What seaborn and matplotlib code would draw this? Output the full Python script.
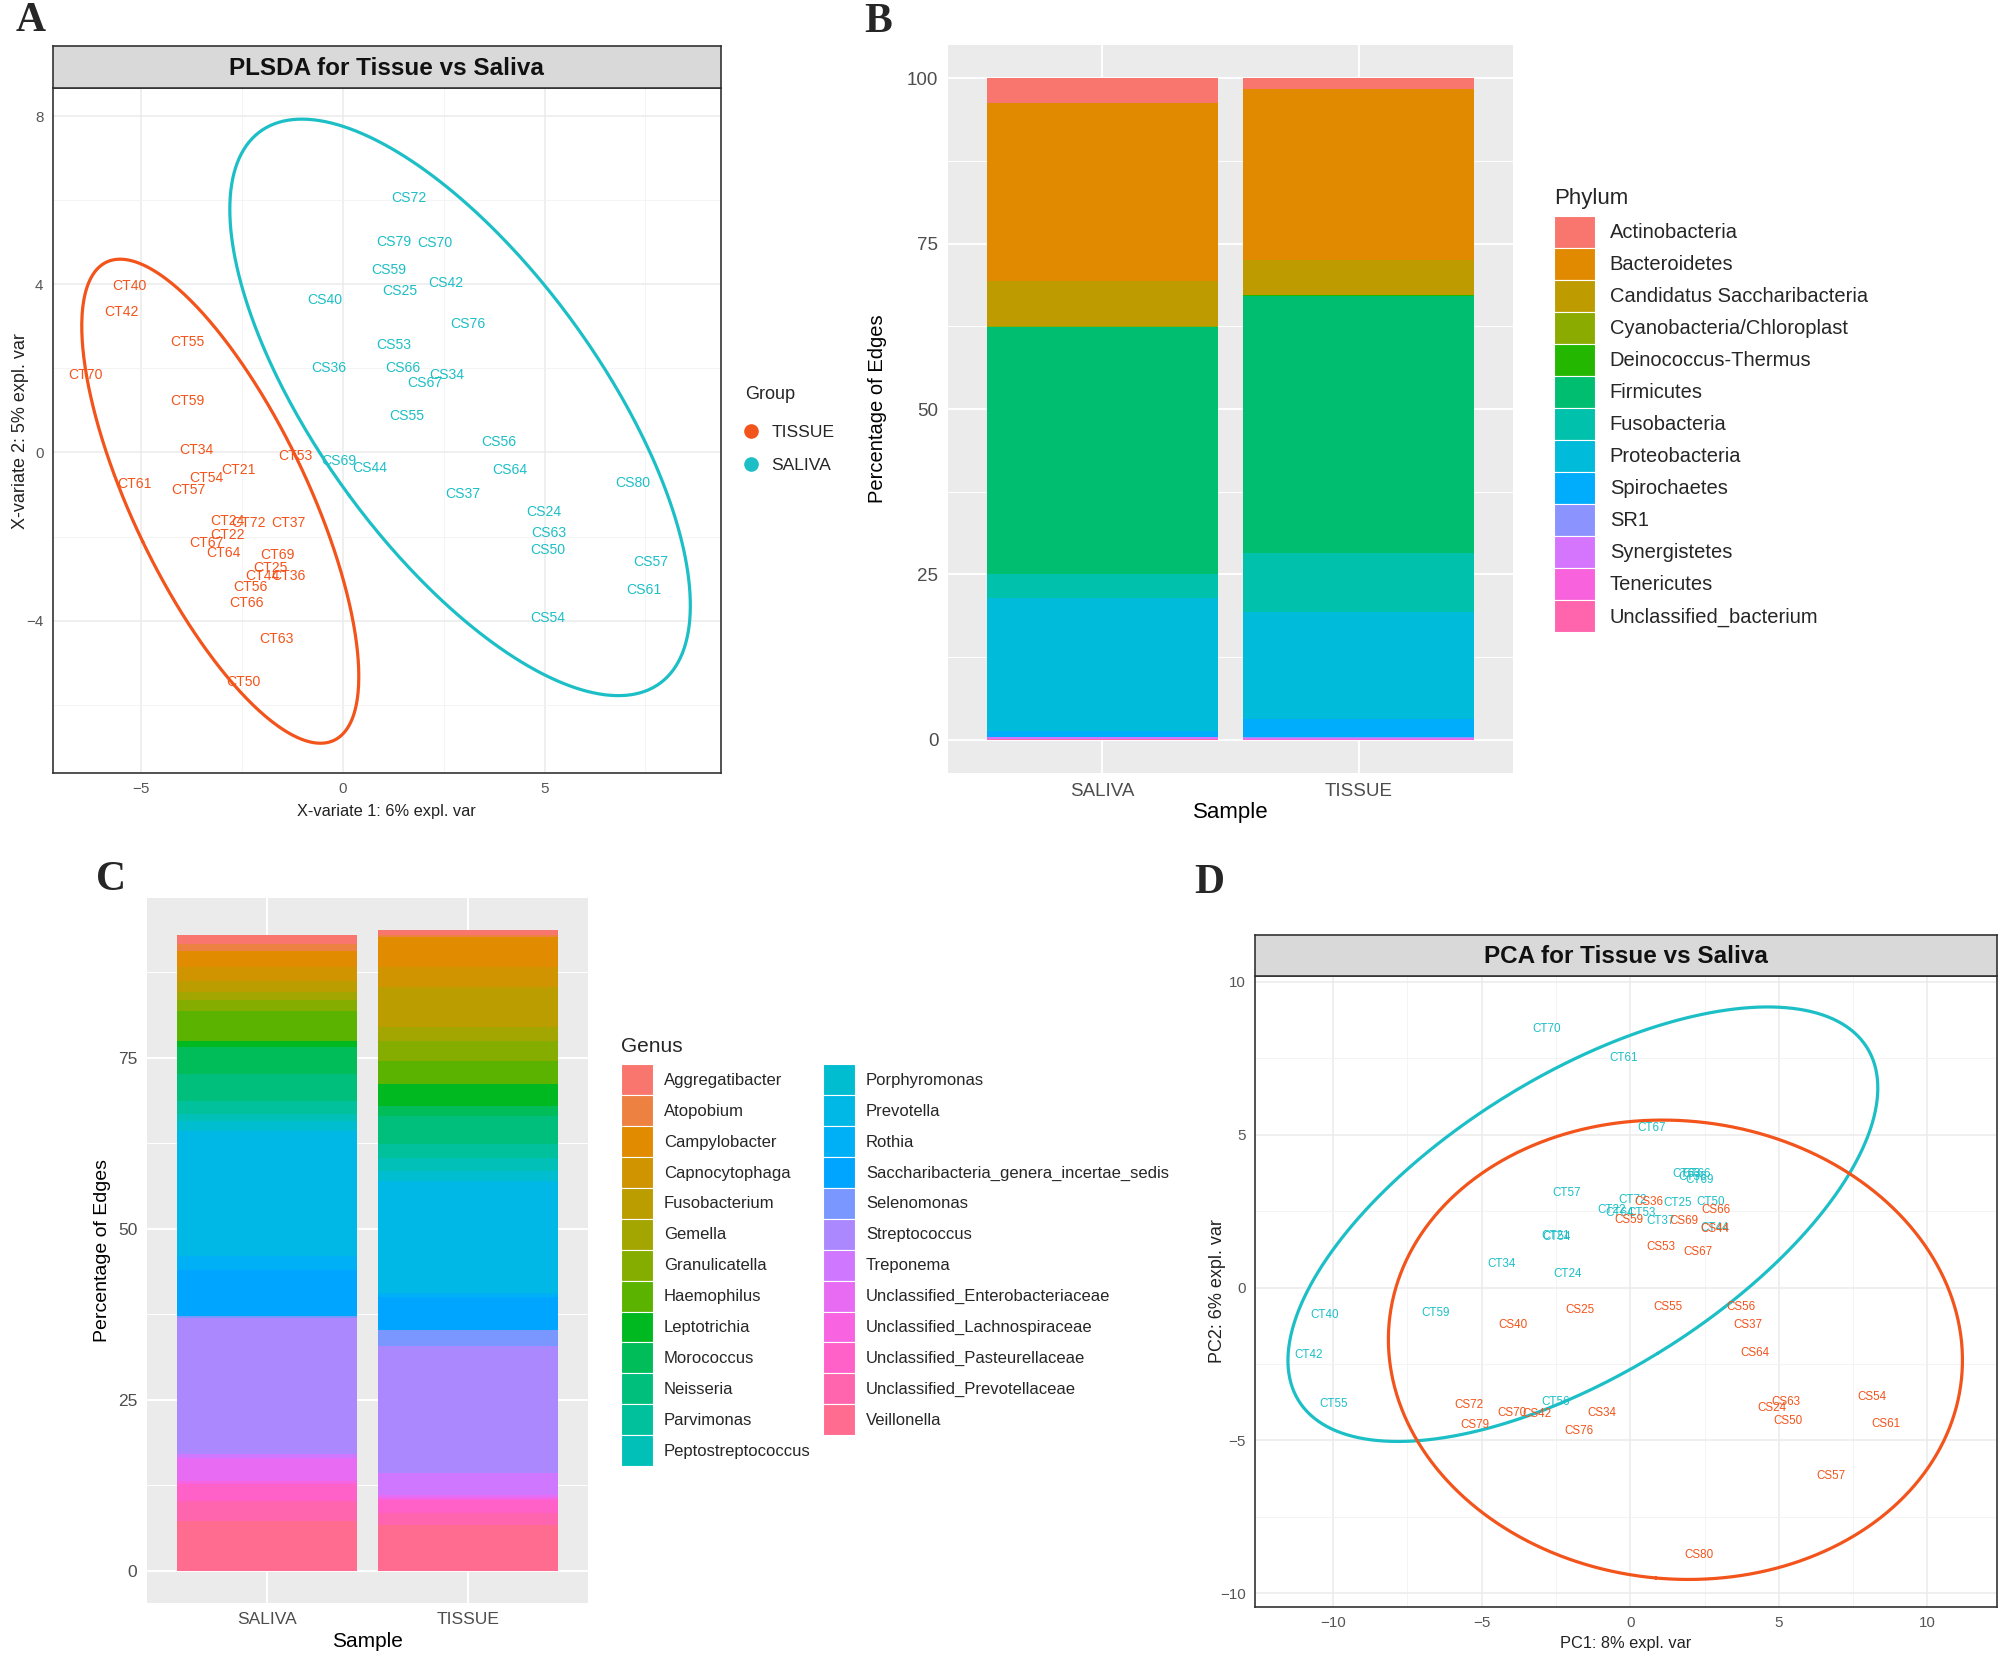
import numpy as np
import pandas as pd
import matplotlib
matplotlib.use("Agg")
import matplotlib.pyplot as plt
from matplotlib import font_manager
from matplotlib.lines import Line2D
from matplotlib.patches import Patch
import seaborn as sns

# ---------------- panel A: PLS-DA label positions ----------------
plsda_tissue_ids = ["CT40", "CT42", "CT55", "CT70", "CT59", "CT34", "CT53", "CT21", "CT54",
                    "CT61", "CT57", "CT24", "CT72", "CT37", "CT22", "CT67", "CT64", "CT69",
                    "CT25", "CT44", "CT36", "CT56", "CT66", "CT63", "CT50"]
plsda_tissue_x = [-5.29, -5.50, -3.85, -6.39, -3.85, -3.64, -1.19, -2.58, -3.39,
                  -5.18, -3.82, -2.87, -2.35, -1.34, -2.87, -3.39, -2.96, -1.62,
                  -1.80, -2.00, -1.36, -2.29, -2.38, -1.65, -2.46]
plsda_tissue_y = [3.96, 3.34, 2.63, 1.84, 1.22, 0.06, -0.08, -0.42, -0.61,
                  -0.76, -0.90, -1.63, -1.69, -1.69, -1.96, -2.16, -2.39, -2.44,
                  -2.74, -2.93, -2.94, -3.20, -3.59, -4.45, -5.46]

plsda_saliva_ids = ["CS72", "CS79", "CS70", "CS59", "CS25", "CS42", "CS40", "CS76", "CS53",
                    "CS36", "CS66", "CS67", "CS34", "CS55", "CS56", "CS69", "CS44", "CS64",
                    "CS80", "CS37", "CS24", "CS63", "CS50", "CS57", "CS61", "CS54"]
plsda_saliva_x = [1.64, 1.26, 2.28, 1.13, 1.41, 2.54, -0.46, 3.10, 1.26,
                  -0.36, 1.49, 2.02, 2.57, 1.58, 3.86, -0.09, 0.66, 4.13,
                  7.19, 2.97, 4.97, 5.11, 5.08, 7.63, 7.45, 5.08]
plsda_saliva_y = [6.05, 5.02, 4.98, 4.35, 3.84, 4.03, 3.62, 3.05, 2.55,
                  2.00, 2.01, 1.66, 1.84, 0.87, 0.25, -0.21, -0.38, -0.41,
                  -0.73, -0.98, -1.42, -1.91, -2.33, -2.61, -3.28, -3.94]

# ---------------- panel D: PCA label positions ----------------
pca_tissue_ids = ["CT70", "CT61", "CT67", "CT63", "CT66", "CT69", "CT36", "CT57", "CT72",
                  "CT25", "CT50", "CT22", "CT64", "CT53", "CT37", "CT44", "CT21", "CT54",
                  "CT34", "CT24", "CT40", "CT59", "CT42", "CT55", "CT56"]
pca_tissue_x = [-2.83, -0.24, 0.73, 1.89, 2.24, 2.32, 2.10, -2.15, 0.07,
                1.59, 2.70, -0.62, -0.36, 0.38, 1.02, 2.84, -2.53, -2.49,
                -4.32, -2.10, -10.28, -6.55, -10.81, -9.98, -2.53]
pca_tissue_y = [8.45, 7.52, 5.22, 3.70, 3.72, 3.53, 3.60, 3.09, 2.87,
                2.76, 2.79, 2.52, 2.43, 2.43, 2.17, 1.95, 1.68, 1.66,
                0.77, 0.45, -0.89, -0.84, -2.22, -3.82, -3.76]

pca_saliva_ids = ["CS36", "CS66", "CS59", "CS69", "CS44", "CS53", "CS67", "CS25", "CS55",
                  "CS56", "CS37", "CS40", "CS64", "CS72", "CS70", "CS42", "CS34", "CS79",
                  "CS76", "CS63", "CS24", "CS50", "CS54", "CS61", "CS57", "CS80"]
pca_saliva_x = [0.62, 2.89, -0.05, 1.80, 2.84, 1.02, 2.27, -1.70, 1.25,
                3.71, 3.97, -3.95, 4.18, -5.44, -4.00, -3.14, -0.97, -5.22,
                -1.72, 5.23, 4.78, 5.30, 8.13, 8.61, 6.74, 2.32]
pca_saliva_y = [2.79, 2.52, 2.22, 2.17, 1.92, 1.32, 1.16, -0.73, -0.65,
                -0.65, -1.22, -1.24, -2.15, -3.85, -4.11, -4.13, -4.09, -4.49,
                -4.68, -3.76, -3.93, -4.38, -3.59, -4.47, -6.16, -8.75]

# ---------------- panel B: phylum composition (% of edges) ----------------
samples = ["SALIVA", "TISSUE"]
phyla = ["Actinobacteria", "Bacteroidetes", "Candidatus Saccharibacteria",
         "Cyanobacteria/Chloroplast", "Deinococcus-Thermus", "Firmicutes", "Fusobacteria",
         "Proteobacteria", "Spirochaetes", "SR1", "Synergistetes", "Tenericutes",
         "Unclassified_bacterium"]
phylum_saliva = [3.7, 27.0, 6.8, 0.05, 0.05, 37.35, 3.6, 20.1, 0.9, 0.05, 0.2, 0.1, 0.1]
phylum_tissue = [1.7, 25.8, 5.3, 0.05, 0.05, 38.8, 9.0, 16.1, 2.8, 0.05, 0.2, 0.1, 0.05]

# ---------------- panel C: genus composition (% of edges) ----------------
genera = ["Aggregatibacter", "Atopobium", "Campylobacter", "Capnocytophaga", "Fusobacterium",
          "Gemella", "Granulicatella", "Haemophilus", "Leptotrichia", "Morococcus", "Neisseria",
          "Parvimonas", "Peptostreptococcus", "Porphyromonas", "Prevotella", "Rothia",
          "Saccharibacteria_genera_incertae_sedis", "Selenomonas", "Streptococcus", "Treponema",
          "Unclassified_Enterobacteriaceae", "Unclassified_Lachnospiraceae",
          "Unclassified_Pasteurellaceae", "Unclassified_Prevotellaceae", "Veillonella"]
genus_saliva = [1.3, 1.1, 2.3, 2.0, 1.7, 1.2, 1.5, 4.4, 0.9, 3.9, 4.0, 1.9, 1.0, 1.5,
                18.3, 2.0, 6.8, 0.2, 20.0, 0.5, 3.4, 0.4, 2.5, 3.0, 7.2]
genus_tissue = [0.7, 0.3, 4.4, 2.9, 5.9, 2.0, 2.9, 3.4, 3.2, 1.5, 4.1, 2.0, 1.9, 1.5,
                16.4, 0.5, 4.9, 2.4, 18.5, 3.2, 0.4, 0.3, 2.0, 1.7, 6.7]

TISSUE_COL = "#F2541B"
SALIVA_COL = "#1DBFC6"

sns.set_theme(style="white")
names = {f.name for f in font_manager.fontManager.ttflist}
SANS = "Liberation Sans" if "Liberation Sans" in names else "DejaVu Sans"
NARROW = "Liberation Sans Narrow" if "Liberation Sans Narrow" in names else SANS
NS = 1.0 if NARROW != SANS else 0.84   # shrink if no condensed face
SERIF = "Liberation Serif" if "Liberation Serif" in names else "DejaVu Serif"
plt.rcParams["font.family"] = [SANS, "DejaVu Sans"]


def gg_hue(n):
    # ggplot2 default hue palette (HCL, c=100, l=65)
    out = []
    Xn, Yn, Zn = 95.047, 100.0, 108.883
    un = 4 * Xn / (Xn + 15 * Yn + 3 * Zn)
    vn = 9 * Yn / (Xn + 15 * Yn + 3 * Zn)
    M = np.array([[3.2404542, -1.5371385, -0.4985314],
                  [-0.9692660, 1.8760108, 0.0415560],
                  [0.0556434, -0.2040259, 1.0572252]])
    for h in 15 + 360 * np.arange(n) / n:
        L, C = 65.0, 100.0
        u, v = C * np.cos(np.deg2rad(h)), C * np.sin(np.deg2rad(h))
        Y = Yn * ((L + 16) / 116) ** 3
        up, vp = u / (13 * L) + un, v / (13 * L) + vn
        X = Y * 9 * up / (4 * vp)
        Z = Y * (12 - 3 * up - 20 * vp) / (4 * vp)
        rgb = M @ (np.array([X, Y, Z]) / 100)
        rgb = np.clip(rgb, 0, None)
        rgb = np.where(rgb <= 0.0031308, 12.92 * rgb, 1.055 * rgb ** (1 / 2.4) - 0.055)
        out.append(tuple(np.clip(rgb, 0, 1)))
    return out


def conf_ellipse(x, y, chi2=5.991464547, n=400):
    # 95% normal-theory ellipse from the scores, as mixOmics draws it
    pts = np.column_stack([x, y])
    mu = pts.mean(axis=0)
    vals, vecs = np.linalg.eigh(np.cov(pts.T))
    t = np.linspace(0, 2 * np.pi, n)
    circ = np.vstack([np.cos(t), np.sin(t)]) * np.sqrt(vals * chi2)[:, None]
    e = vecs @ circ + mu[:, None]
    return e[0], e[1]


W, H = 2007, 1668
fig = plt.figure(figsize=(W / 100, H / 100), dpi=100)
fig.patch.set_facecolor("white")


def bw_panel(rect, xlim, ylim, xmaj, ymaj, title, xlabel, ylabel, xl_y, yl_x, strip_h):
    ax = fig.add_axes(rect)
    ax.set_facecolor("white")
    ax.set_xticks(xmaj)
    ax.set_yticks(ymaj)
    ax.set_xticks([(a + b) / 2 for a, b in zip(xmaj[:-1], xmaj[1:])] + [xmaj[-1] + (xmaj[1] - xmaj[0]) / 2], minor=True)
    ax.set_yticks([(a + b) / 2 for a, b in zip(ymaj[:-1], ymaj[1:])] + [ymaj[0] - (ymaj[1] - ymaj[0]) / 2], minor=True)
    ax.set_xlim(*xlim)
    ax.set_ylim(*ylim)
    ax.grid(True, which="major", color="#EBEBEB", lw=1.1)
    ax.grid(True, which="minor", color="#F2F2F2", lw=0.6)
    ax.set_axisbelow(True)
    for sp in ax.spines.values():
        sp.set_color("#333333")
        sp.set_linewidth(1.2)
    ax.tick_params(which="major", length=3.5, width=1.0, color="#333333",
                   labelcolor="#555555", labelsize=13 * NS, pad=3)
    ax.tick_params(which="minor", length=0)
    for lab in ax.get_xticklabels() + ax.get_yticklabels():
        lab.set_family(NARROW)
    ax.set_xlabel(xlabel, family=NARROW, fontsize=14 * NS, color="#222222")
    ax.set_ylabel(ylabel, family=SANS, fontsize=13, color="#222222")
    ax.xaxis.set_label_coords(0.5, xl_y)
    ax.yaxis.set_label_coords(yl_x, 0.5)
    ax.xaxis.label.set_va("center")
    ax.yaxis.label.set_va("center")
    s = fig.add_axes([rect[0], rect[1] + rect[3], rect[2], strip_h])
    s.set_facecolor("#D9D9D9")
    s.set_xticks([])
    s.set_yticks([])
    for sp in s.spines.values():
        sp.set_color("#333333")
        sp.set_linewidth(1.2)
    s.text(0.5, 0.47, title, ha="center", va="center", fontsize=19 * (NS + 1) / 2,
           fontweight="bold", family=NARROW, color="#111111")
    return ax


def put_labels(ax, ids, xs, ys, color, size):
    for lab, x, y in zip(ids, xs, ys):
        ax.text(x, y, lab, color=color, ha="center", va="center",
                fontsize=size * NS, family=NARROW)


# ---------------- A ----------------
axA = bw_panel([52.5 / W, 1 - 773 / H, 668 / W, 684.7 / H], (-7.20, 9.36), (-7.63, 8.67),
               [-5, 0, 5], [-4, 0, 4, 8], "PLSDA for Tissue vs Saliva",
               "X-variate 1: 6% expl. var", "X-variate 2: 5% expl. var", -0.0565, -0.048,
               42.3 / H)
ex, ey = conf_ellipse(plsda_tissue_x, plsda_tissue_y)
sns.lineplot(x=ex, y=ey, sort=False, estimator=None, color=TISSUE_COL, lw=2.3, ax=axA)
ex, ey = conf_ellipse(plsda_saliva_x, plsda_saliva_y)
sns.lineplot(x=ex, y=ey, sort=False, estimator=None, color=SALIVA_COL, lw=2.3, ax=axA)
put_labels(axA, plsda_tissue_ids, plsda_tissue_x, plsda_tissue_y, TISSUE_COL, 12)
put_labels(axA, plsda_saliva_ids, plsda_saliva_x, plsda_saliva_y, SALIVA_COL, 12)
axA.set_xlim(-7.20, 9.36)
axA.set_ylim(-7.63, 8.67)

grp_handles = [Line2D([], [], ls="", marker="o", markersize=9.5, color=TISSUE_COL),
               Line2D([], [], ls="", marker="o", markersize=9.5, color=SALIVA_COL)]
legA = fig.legend(grp_handles, ["TISSUE", "SALIVA"], title="Group", loc="upper left",
                  bbox_to_anchor=(745 / W, 1 - 386 / H), frameon=False, borderpad=0,
                  borderaxespad=0, handlelength=0.7, handletextpad=0.8, labelspacing=0.98,
                  alignment="left", prop={"family": NARROW, "size": 15 * NS},
                  title_fontproperties={"family": NARROW, "size": 15.5 * NS})
legA._legend_box.sep = 16

# ---------------- D ----------------
axD = bw_panel([1255 / W, 1 - 1606.7 / H, 742 / W, 630.7 / H], (-12.63, 12.34), (-10.44, 10.19),
               [-10, -5, 0, 5, 10], [-10, -5, 0, 5, 10], "PCA for Tissue vs Saliva",
               "PC1: 8% expl. var", "PC2: 6% expl. var", -0.0576, -0.05, 41 / H)
ex, ey = conf_ellipse(pca_tissue_x, pca_tissue_y)
sns.lineplot(x=ex, y=ey, sort=False, estimator=None, color=SALIVA_COL, lw=2.3, ax=axD)
ex, ey = conf_ellipse(pca_saliva_x, pca_saliva_y)
sns.lineplot(x=ex, y=ey, sort=False, estimator=None, color=TISSUE_COL, lw=2.3, ax=axD)
put_labels(axD, pca_tissue_ids, pca_tissue_x, pca_tissue_y, SALIVA_COL, 10)
put_labels(axD, pca_saliva_ids, pca_saliva_x, pca_saliva_y, TISSUE_COL, 10)
axD.set_xlim(-12.63, 12.34)
axD.set_ylim(-10.44, 10.19)


# ---------------- stacked bars (B, C) ----------------
def grey_panel(ax, ylim, ymaj, tick_size, lab_size, xl_y, yl_x, ylab_size):
    ax.set_facecolor("#EBEBEB")
    for sp in ax.spines.values():
        sp.set_visible(False)
    ax.set_xlim(-0.6, 1.6)
    ax.set_ylim(*ylim)
    ax.set_xticks([0, 1])
    ax.set_xticklabels(samples)
    ax.set_yticks(ymaj)
    ax.set_yticklabels([str(v) for v in ymaj])
    ax.set_yticks([v + 12.5 for v in ymaj[:-1]] + ([ymaj[-1] + 12.5] if ymaj[-1] + 12.5 < ylim[1] else []), minor=True)
    ax.grid(True, which="major", color="white", lw=1.4)
    ax.grid(True, which="minor", axis="y", color="white", lw=0.7)
    ax.set_axisbelow(True)
    ax.tick_params(which="major", length=4, width=1.1, color="#333333",
                   labelcolor="#4D4D4D", labelsize=tick_size, pad=3)
    ax.tick_params(which="minor", length=0)
    ax.set_xlabel("Sample", fontsize=lab_size, color="black")
    ax.set_ylabel("Percentage of Edges", fontsize=ylab_size, color="black")
    ax.xaxis.set_label_coords(0.5, xl_y)
    ax.yaxis.set_label_coords(yl_x, 0.5)
    ax.xaxis.label.set_va("center")
    ax.yaxis.label.set_va("center")


def key_height(row_px, font_pt):
    # legend handleheight giving contiguous keys of row_px pixels
    f = font_pt * 100 / 72
    return (row_px / f - 0.245) / 0.65


phylum_cols = gg_hue(len(phyla))
df_phy = pd.DataFrame({
    "Sample": np.repeat(samples, len(phyla)),
    "Phylum": phyla * 2,
    "pct": phylum_saliva + phylum_tissue,
})
axB = fig.add_axes([948 / W, 1 - 773 / H, 565 / W, 728 / H])
sns.histplot(data=df_phy, x="Sample", weights="pct", hue="Phylum", hue_order=phyla,
             palette=dict(zip(phyla, phylum_cols)), multiple="stack", discrete=True,
             shrink=0.9, linewidth=0, alpha=1, legend=False, ax=axB)
grey_panel(axB, (-5, 105), [0, 25, 50, 75, 100], 13.5, 16, -0.0545, -0.124, 14.5)

legB = fig.legend([Patch(facecolor=c, edgecolor="white", lw=0.8) for c in phylum_cols], phyla,
                  title="Phylum", loc="upper left", bbox_to_anchor=(1554 / W, 1 - 188 / H),
                  frameon=False, borderpad=0, borderaxespad=0, handlelength=2.05,
                  handleheight=key_height(32, 14.5), handletextpad=0.72, labelspacing=0.0,
                  alignment="left", prop={"size": 14.5}, title_fontproperties={"size": 16})
legB._legend_box.sep = 5

genus_cols = gg_hue(len(genera))
df_gen = pd.DataFrame({
    "Sample": np.repeat(samples, len(genera)),
    "Genus": genera * 2,
    "pct": genus_saliva + genus_tissue,
})
top = max(sum(genus_saliva), sum(genus_tissue))
axC = fig.add_axes([147 / W, 1 - 1602.7 / H, 441 / W, 704.7 / H])
sns.histplot(data=df_gen, x="Sample", weights="pct", hue="Genus", hue_order=genera,
             palette=dict(zip(genera, genus_cols)), multiple="stack", discrete=True,
             shrink=0.9, linewidth=0, alpha=1, legend=False, ax=axC)
grey_panel(axC, (-0.05 * top, 1.05 * top), [0, 25, 50, 75], 12.5, 15, -0.0553, -0.102, 14)

legC = fig.legend([Patch(facecolor=c, edgecolor="white", lw=0.8) for c in genus_cols], genera,
                  title="Genus", ncol=2, loc="upper left", bbox_to_anchor=(621 / W, 1 - 1037 / H),
                  frameon=False, borderpad=0, borderaxespad=0, handlelength=1.89,
                  handleheight=key_height(30.9, 12), handletextpad=0.69, labelspacing=0.0,
                  columnspacing=0.74, alignment="left", prop={"size": 12},
                  title_fontproperties={"size": 15})
legC._legend_box.sep = 6

# ---------------- panel letters ----------------
for letter, px, py in [("A", 16, 2), ("B", 864, 3), ("C", 96, 861), ("D", 1194, 864)]:
    fig.text(px / W, 1 - py / H, letter, family=SERIF, fontweight="bold", fontsize=30,
             ha="left", va="top")

fig.savefig("out.png", dpi=100, facecolor="white")
